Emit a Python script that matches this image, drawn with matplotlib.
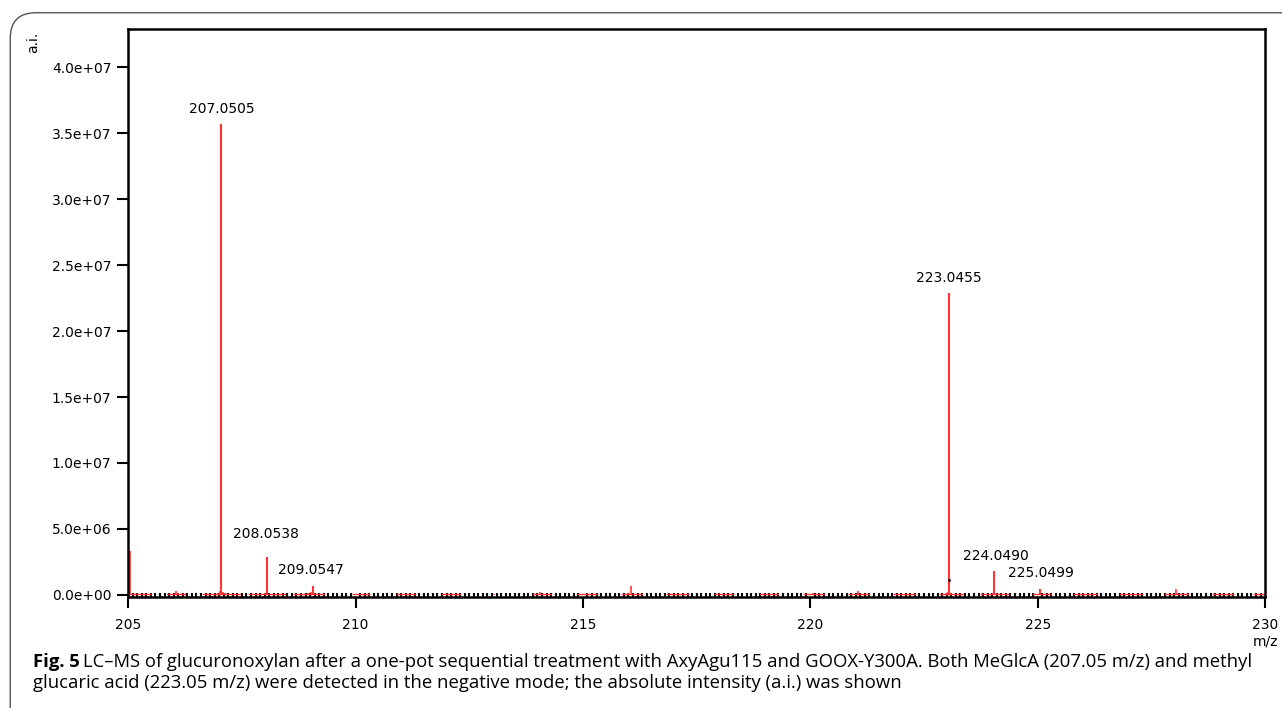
import matplotlib.pyplot as plt
from matplotlib.patches import FancyBboxPatch
from matplotlib.ticker import MultipleLocator

# main labelled peaks (m/z, intensity)
peak_mz = [207.0505, 208.0538, 209.0547, 223.0455, 224.0490, 225.0499]
peak_int = [3.57e7, 2.9e6, 7.0e5, 2.29e7, 1.8e6, 4.5e5]
peak_lbl = ["207.0505", "208.0538", "209.0547", "223.0455", "224.0490", "225.0499"]

# small unlabelled sticks
minor_mz = [205.04, 206.02, 206.05, 206.09, 206.98, 207.02, 207.09, 207.12,
            208.01, 208.09, 208.95, 209.02, 209.08, 210.02, 211.03, 212.04,
            213.05, 214.00, 214.05, 215.04, 216.00, 216.05, 217.04, 218.03,
            219.04, 220.02, 220.06, 221.00, 221.05, 222.03, 222.98, 223.02,
            223.09, 224.02, 224.09, 225.02, 226.03, 227.04, 228.04, 228.06,
            229.03, 229.95]
minor_int = [3.33e6, 1.5e5, 3.0e5, 1.5e5, 1.2e5, 3.0e5, 2.5e5, 1.5e5,
             1.2e5, 1.0e5, 1.2e5, 2.0e5, 1.5e5, 1.0e5, 1.0e5, 1.0e5,
             1.0e5, 1.0e5, 1.8e5, 1.0e5, 1.2e5, 6.5e5, 1.0e5, 1.0e5,
             1.0e5, 1.0e5, 1.5e5, 1.0e5, 3.2e5, 1.0e5, 1.2e5, 2.5e5,
             1.5e5, 1.2e5, 1.0e5, 1.0e5, 1.0e5, 1.0e5, 4.2e5, 1.5e5,
             1.0e5, 1.0e5]

# noise floor segments (start, end) drawn just above the baseline
noise_seg = [(205.05, 205.5), (205.85, 206.25), (206.65, 207.45), (207.65, 208.45),
             (208.65, 209.3), (209.95, 210.3), (210.9, 211.3), (211.9, 212.3),
             (213.9, 214.3), (214.9, 215.3), (215.85, 216.3), (216.85, 217.3),
             (217.9, 218.3), (218.9, 219.3), (219.85, 220.3), (220.85, 221.3),
             (221.85, 222.3), (222.85, 223.35), (223.75, 224.35), (224.9, 225.3),
             (225.8, 226.3), (226.8, 227.3), (227.8, 228.3), (228.85, 229.3),
             (229.75, 230.0)]

fig = plt.figure(figsize=(12.82, 7.08), dpi=100)
plt.rcParams['font.family'] = ['DejaVu Sans']

# rounded figure frame
frame = FancyBboxPatch((0.008, -0.05), 1.05, 1.032, boxstyle="round,pad=0,rounding_size=0.02",
                       transform=fig.transFigure, fill=False, edgecolor="#555555", linewidth=1.0,
                       mutation_aspect=1282 / 708)
fig.patches.append(frame)

ax = fig.add_axes([0.1, 0.157, 0.8868, 0.802])
red = "#ff3333"
for a, b in noise_seg:
    ax.plot([a, b], [8e4, 8e4], color=red, lw=1.0)
ax.vlines(minor_mz, 0, minor_int, color=red, lw=1.2)
ax.vlines(peak_mz, 0, peak_int, color=red, lw=1.5)
ax.plot([223.05], [1.1e6], 'k.', ms=2)

offs = [(0, 0.06e7, 'center'), (-0.75, 0.12e7, 'left'), (-0.75, 0.65e6, 'left'),
        (0, 0.06e7, 'center'), (-0.7, 0.58e6, 'left'), (-0.7, 0.68e6, 'left')]
for x, y, t, (dx, dy, ha) in zip(peak_mz, peak_int, peak_lbl, offs):
    ax.text(x + dx, y + dy, t, ha=ha, va='bottom', fontsize=10)

ax.set_xlim(205, 230)
ax.set_ylim(-1.5e5, 4.29e7)
ax.set_xticks([205, 210, 215, 220, 225, 230])
ax.set_yticks([0, 0.5e7, 1e7, 1.5e7, 2e7, 2.5e7, 3e7, 3.5e7, 4e7])
ax.set_yticklabels(["0.0e+00", "5.0e+06", "1.0e+07", "1.5e+07", "2.0e+07",
                    "2.5e+07", "3.0e+07", "3.5e+07", "4.0e+07"])
ax.xaxis.set_minor_locator(MultipleLocator(0.1))
ax.tick_params(axis='both', which='major', direction='out', length=8, width=1.5,
               labelsize=10, pad=4)
ax.tick_params(axis='x', which='major', pad=7)
ax.tick_params(axis='x', which='minor', direction='in', length=3, width=1.5)
ax.tick_params(axis='y', which='minor', left=False)
for s in ax.spines.values():
    s.set_linewidth(1.8)

fig.text(0.026, 0.94, "a.i.", rotation=90, fontsize=10, ha='center', va='center')
fig.text(0.9868, 0.094, "m/z", fontsize=10, ha='center', va='center')

fig.text(0.026, 0.065, "Fig. 5", fontsize=13.3, family='Open Sans', weight='bold', va='center')
fig.text(0.065, 0.065, "LC–MS of glucuronoxylan after a one-pot sequential treatment with AxyAgu115 and GOOX-Y300A. Both MeGlcA (207.05 m/z) and methyl",
         fontsize=13.3, family='Open Sans', va='center')
fig.text(0.026, 0.035, "glucaric acid (223.05 m/z) were detected in the negative mode; the absolute intensity (a.i.) was shown",
         fontsize=13.3, family='Open Sans', va='center')

fig.savefig("out.png", dpi=100)
